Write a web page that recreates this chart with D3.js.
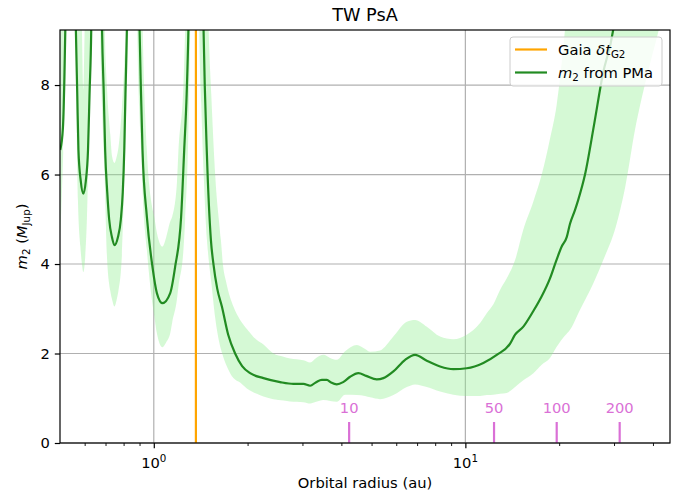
<!DOCTYPE html>
<html>
<head>
<meta charset="utf-8">
<script src="https://cdn.jsdelivr.net/npm/d3@7"></script>
<style>
  body { margin: 0; background: #fff; }
  text { font-family: "DejaVu Sans", sans-serif; }
</style>
</head>
<body>
<div id="chart"></div>
<script>
// m2 from PMa: orbital radius (au) and mass (M_Jup)
const radiusAu = [0.501, 0.511, 0.520, 0.529, 0.539, 0.551, 0.562, 0.568, 0.573, 0.583, 0.594, 0.605, 0.615, 0.622, 0.630, 0.639, 0.653,
  0.671, 0.682, 0.691, 0.698, 0.709, 0.719, 0.734, 0.748, 0.767, 0.784, 0.795, 0.804, 0.811, 0.820, 0.834, 0.859,
  0.885, 0.900, 0.910, 0.920, 0.950, 0.990, 1.023, 1.066, 1.129, 1.171, 1.224, 1.252, 1.275, 1.292, 1.318, 1.368,
  1.415, 1.444, 1.481, 1.525, 1.554, 1.598, 1.654, 1.733, 1.824, 1.921, 2.038, 2.249, 2.544, 2.806, 3.022, 3.175, 3.319, 3.462, 3.592,
  3.708, 3.867, 4.052, 4.266, 4.537, 4.802, 5.197, 5.456, 5.874, 6.407, 6.896, 7.519, 8.294, 9.152, 10.10, 11.42,
  12.61, 13.92, 14.44, 15.35, 16.53, 17.58, 18.69, 19.54, 20.38, 21.15, 21.67, 22.49, 23.04, 24.21, 25.88, 27.59,
  29.84, 31.35];
const massMid = [6.55, 7.05, 9.25, 13, 30, 14, 9.3, 7.8, 6.55, 5.85, 5.57, 5.85, 6.55, 7.8, 9.3, 14, 30,
  14, 9.3, 7.8, 6.55, 5.6, 5.0, 4.6, 4.42, 4.6, 5.0, 5.6, 6.55, 7.8, 9.3, 14, 30,
  14, 9.3, 7.8, 6.55, 5.06, 3.94, 3.35, 3.125, 3.35, 3.94, 5.06, 6.55, 7.8, 9.3, 14, 30,
  14, 9.3, 6.43, 4.54, 4.0, 3.45, 3.05, 2.42, 2.0, 1.72, 1.56, 1.45, 1.36, 1.32, 1.32, 1.28, 1.36, 1.41, 1.41,
  1.35, 1.31, 1.36, 1.48, 1.56, 1.50, 1.42, 1.45, 1.60, 1.86, 1.97, 1.84, 1.71, 1.65, 1.67, 1.79,
  1.97, 2.22, 2.42, 2.60, 2.95, 3.28, 3.68, 4.06, 4.39, 4.60, 4.90, 5.21, 5.44, 6.0, 7.11, 8.23,
  9.25, 10.5];

// confidence band
const bandAu = [0.501, 0.512, 0.524, 0.535, 0.547, 0.561, 0.571, 0.581, 0.588, 0.594, 0.600, 0.610, 0.620, 0.632, 0.653,
  0.673, 0.686, 0.695, 0.707, 0.725, 0.735, 0.748, 0.760, 0.770, 0.790, 0.805, 0.816, 0.828, 0.859,
  0.885, 0.898, 0.911, 0.921, 0.950, 0.986, 1.003, 1.023, 1.066, 1.096, 1.129, 1.146, 1.186, 1.200, 1.245, 1.261, 1.287, 1.309, 1.368,
  1.399, 1.420, 1.446, 1.481, 1.500, 1.529, 1.574, 1.642, 1.666, 1.707, 1.758, 1.801, 1.893, 1.989, 2.142, 2.249, 2.421, 2.607, 2.739,
  3.022, 3.175, 3.319, 3.503, 3.680, 3.867, 4.112, 4.483, 4.766, 4.947, 5.325, 5.874, 6.487, 6.896, 7.519, 8.294, 9.152, 10.10,
  11.15, 11.71, 12.30, 12.92, 13.58, 14.44, 15.35, 16.53, 17.58, 18.69, 19.64, 20.89, 21.67, 23.34, 25.75, 27.71, 30.44,
  32.54, 35.03, 38.27, 41.82, 45.37];
const bandLo = [4.6, 6.5, 9.3, 20, 20, 9.3, 5.4, 4.4, 4.0, 3.82, 4.0, 5.0, 7.0, 9.3, 20,
  9.3, 7.0, 6.0, 4.2, 3.4, 3.2, 3.05, 3.2, 3.4, 4.2, 6.0, 7.5, 9.3, 20,
  9.3, 7.5, 6.55, 5.6, 4.32, 3.2, 2.85, 2.45, 2.14, 2.25, 2.45, 2.7, 3.2, 3.5, 4.32, 5.0, 6.55, 9.3, 20,
  9.3, 7.6, 6.0, 4.54, 4.1, 3.6, 2.8, 2.1, 1.95, 1.75, 1.56, 1.45, 1.35, 1.22, 1.10, 1.04, 0.98, 0.95, 0.93,
  0.91, 0.88, 0.92, 0.96, 0.94, 0.92, 1.08, 1.07, 1.05, 1.02, 0.98, 1.07, 1.25, 1.31, 1.25, 1.15, 1.08, 1.05,
  1.05, 1.07, 1.08, 1.10, 1.12, 1.25, 1.40, 1.56, 1.75, 1.90, 2.15, 2.40, 2.53, 2.98, 3.57, 4.09, 4.85,
  5.70, 7.0, 8.2, 9.25, 10.3];
const bandHi = [20, 20, 20, 20, 30, 30, 30, 12, 9.25, 7.9, 9.25, 12, 30, 30, 30,
  30, 30, 9.5, 8.0, 6.9, 6.4, 6.26, 6.4, 6.6, 7.5, 8.5, 9.5, 30, 30,
  30, 30, 11, 9.25, 6.55, 5.3, 5.06, 4.7, 4.39, 4.6, 4.95, 5.06, 5.8, 6.55, 8.0, 9.25, 12, 30, 30,
  30, 30, 30, 11, 9.25, 7.8, 6.0, 4.54, 4.0, 3.6, 3.25, 3.05, 2.75, 2.55, 2.3, 2.2, 2.0, 1.93, 1.89,
  1.85, 1.80, 1.90, 1.97, 1.90, 1.86, 2.05, 2.19, 2.10, 2.04, 2.07, 2.38, 2.71, 2.75, 2.60, 2.38, 2.32, 2.42,
  2.68, 2.90, 3.10, 3.42, 3.68, 4.09, 4.77, 5.40, 6.0, 6.8, 7.56, 9.25, 10.5, 13, 16, 18, 20,
  22, 24, 26, 28, 30];

const gaiaAu = 1.365;
const periodLabels = ["10", "50", "100", "200"];
const periodAu = [4.236, 12.36, 19.64, 31.28];
const yTicks = [0, 2, 4, 6, 8];
const xMajor = [1, 10];
const xMinor = [0.6, 0.7, 0.8, 0.9, 2, 3, 4, 5, 6, 7, 8, 9, 20, 30, 40];

const W = 684, H = 495;
const margin = {top: 30, right: 14, bottom: 52, left: 60};
const width = W - margin.left - margin.right;
const height = H - margin.top - margin.bottom;

const svg = d3.select("#chart").append("svg")
  .attr("width", W).attr("height", H);

const g = svg.append("g").attr("transform", `translate(${margin.left},${margin.top})`);

const x = d3.scaleLog().domain([0.5, 45.37]).range([0, width]);
const y = d3.scaleLinear().domain([0, 9.23]).range([height, 0]);

svg.append("defs").append("clipPath").attr("id", "clip")
  .append("rect").attr("width", width).attr("height", height);

// grid
g.selectAll(".gy").data(yTicks).enter().append("line")
  .attr("x1", 0).attr("x2", width)
  .attr("y1", d => y(d)).attr("y2", d => y(d))
  .attr("stroke", "#b0b0b0").attr("stroke-width", 1.2);
g.selectAll(".gx").data(xMajor).enter().append("line")
  .attr("x1", d => x(d)).attr("x2", d => x(d))
  .attr("y1", 0).attr("y2", height)
  .attr("stroke", "#b0b0b0").attr("stroke-width", 1.2);

const plot = g.append("g").attr("clip-path", "url(#clip)");

const band = bandAu.map((a, i) => ({a, lo: bandLo[i], hi: bandHi[i]}));
plot.append("path")
  .datum(band)
  .attr("fill", "#90ee90")
  .attr("fill-opacity", 0.38)
  .attr("d", d3.area().curve(d3.curveMonotoneX)
    .x(d => x(d.a)).y0(d => y(d.lo)).y1(d => y(d.hi)));

plot.append("line")
  .attr("x1", x(gaiaAu)).attr("x2", x(gaiaAu))
  .attr("y1", 0).attr("y2", height)
  .attr("stroke", "orange").attr("stroke-width", 2.2);

const mid = radiusAu.map((a, i) => ({a, m: massMid[i]}));
plot.append("path")
  .datum(mid)
  .attr("fill", "none")
  .attr("stroke", "#228b22")
  .attr("stroke-width", 2.2)
  .attr("stroke-linejoin", "round")
  .attr("d", d3.line().curve(d3.curveMonotoneX).x(d => x(d.a)).y(d => y(d.m)));

// orbital period markers
periodAu.forEach((a, i) => {
  g.append("line")
    .attr("x1", x(a)).attr("x2", x(a))
    .attr("y1", height - 21).attr("y2", height)
    .attr("stroke", "orchid").attr("stroke-width", 2.2);
  g.append("text")
    .attr("x", x(a)).attr("y", height - 30)
    .attr("text-anchor", "middle")
    .attr("fill", "orchid")
    .attr("font-size", "14.7px")
    .text(periodLabels[i]);
});

// axes
g.append("g")
  .attr("transform", `translate(0,${height})`)
  .call(d3.axisBottom(x).tickValues(xMajor).tickFormat("").tickSize(5.2).tickSizeOuter(0))
  .call(s => s.select(".domain").remove())
  .call(s => s.selectAll("line").attr("stroke-width", 1.2));
g.append("g")
  .attr("transform", `translate(0,${height})`)
  .call(d3.axisBottom(x).tickValues(xMinor).tickFormat("").tickSize(3).tickSizeOuter(0))
  .call(s => s.select(".domain").remove())
  .call(s => s.selectAll("line").attr("stroke-width", 0.9));

xMajor.forEach(v => {
  const t = g.append("text")
    .attr("x", x(v)).attr("y", height + 25)
    .attr("text-anchor", "middle")
    .attr("font-size", "14.7px");
  t.append("tspan").text("10");
  t.append("tspan").attr("dy", -6).attr("font-size", "10.3px").text(Math.log10(v));
});

g.append("g")
  .call(d3.axisLeft(y).tickValues(yTicks).tickFormat(d3.format("d")).tickSize(5.2).tickPadding(5).tickSizeOuter(0))
  .call(s => s.select(".domain").remove())
  .call(s => s.selectAll("line").attr("stroke-width", 1.2))
  .call(s => s.selectAll("text").attr("font-size", "14.7px").attr("font-family", "DejaVu Sans"));

// spines
g.append("rect")
  .attr("width", width).attr("height", height)
  .attr("fill", "none").attr("stroke", "#000").attr("stroke-width", 1.2);

// labels
svg.append("text")
  .attr("x", margin.left + width / 2).attr("y", 21)
  .attr("text-anchor", "middle").attr("font-size", "17.7px")
  .text("TW PsA");

svg.append("text")
  .attr("x", margin.left + width / 2).attr("y", 488)
  .attr("text-anchor", "middle").attr("font-size", "14.7px")
  .text("Orbital radius (au)");

const yl = svg.append("text")
  .attr("transform", `translate(27,${margin.top + height / 2}) rotate(-90)`)
  .attr("text-anchor", "middle").attr("font-size", "14.7px");
yl.append("tspan").attr("font-style", "italic").text("m");
yl.append("tspan").attr("dy", 3).attr("font-size", "10.3px").text("2");
yl.append("tspan").attr("dy", -3).text(" (");
yl.append("tspan").attr("font-style", "italic").text("M");
yl.append("tspan").attr("dy", 3).attr("font-size", "10.3px").text("Jup");
yl.append("tspan").attr("dy", -3).text(")");

// legend
const lg = svg.append("g").attr("transform", "translate(510,37)");
lg.append("rect")
  .attr("width", 152).attr("height", 49).attr("rx", 3)
  .attr("fill", "#fff").attr("fill-opacity", 0.8)
  .attr("stroke", "#cccccc").attr("stroke-width", 1);
lg.append("line").attr("x1", 5).attr("x2", 37).attr("y1", 12.5).attr("y2", 12.5)
  .attr("stroke", "orange").attr("stroke-width", 2.2);
lg.append("line").attr("x1", 5).attr("x2", 37).attr("y1", 35.5).attr("y2", 35.5)
  .attr("stroke", "#228b22").attr("stroke-width", 2.2);
const t1 = lg.append("text").attr("x", 48).attr("y", 18).attr("font-size", "14.7px");
t1.append("tspan").text("Gaia ");
t1.append("tspan").attr("font-style", "italic").text("δt");
t1.append("tspan").attr("dy", 3).attr("font-size", "10.3px").text("G2");
const t2 = lg.append("text").attr("x", 48).attr("y", 41).attr("font-size", "14.7px");
t2.append("tspan").attr("font-style", "italic").text("m");
t2.append("tspan").attr("dy", 3).attr("font-size", "10.3px").text("2");
t2.append("tspan").attr("dy", -3).text(" from PMa");
</script>
</body>
</html>
